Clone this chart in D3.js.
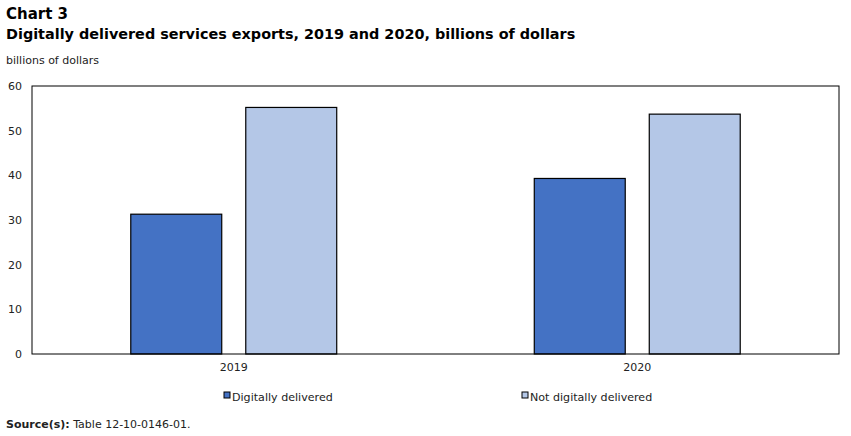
<!DOCTYPE html>
<html><head><meta charset="utf-8">
<script src="https://cdn.jsdelivr.net/npm/d3@7"></script>
<style>body{margin:0;background:#fff;} svg{display:block;}</style>
</head><body>
<svg id="c" width="851" height="436"></svg>
<script>
const years = ["2019", "2020"];
const seriesNames = ["Digitally delivered", "Not digitally delivered"];
const digitallyDelivered = [31.3, 39.3];
const notDigitallyDelivered = [55.2, 53.7];
const yTicks = [0, 10, 20, 30, 40, 50, 60];
const colors = ["#4472C4", "#B4C7E7"];

const svg = d3.select("#c");
const font = "'DejaVu Sans', Verdana, sans-serif";
const L = 32, R = 839, T = 86, B = 354;

svg.append("text").attr("x", 6).attr("y", 19).attr("font-family", font).attr("font-weight", "bold")
  .attr("font-size", 15).attr("fill", "#000").text("Chart 3");
svg.append("text").attr("x", 6).attr("y", 39).attr("font-family", font).attr("font-weight", "bold")
  .attr("font-size", 14.4).attr("fill", "#000").text("Digitally delivered services exports, 2019 and 2020, billions of dollars");
svg.append("text").attr("x", 6).attr("y", 64).attr("font-family", font)
  .attr("font-size", 11).attr("fill", "#222").text("billions of dollars");

const y = d3.scaleLinear().domain([0, 60]).range([B, T]);
const x0 = d3.scaleBand().domain(years).range([L, R]).paddingInner(0).paddingOuter(0);
const x1 = d3.scaleBand().domain(seriesNames).range([0, x0.bandwidth()]).paddingInner(0.209).paddingOuter(0.859);

const data = years.map((yr, i) => ({year: yr, vals: [digitallyDelivered[i], notDigitallyDelivered[i]]}));

const g = svg.append("g");
data.forEach(d => {
  d.vals.forEach((v, j) => {
    g.append("rect")
      .attr("x", x0(d.year) + x1(seriesNames[j]))
      .attr("y", y(v))
      .attr("width", x1.bandwidth())
      .attr("height", y(0) - y(v))
      .attr("fill", colors[j])
      .attr("stroke", "#000").attr("stroke-width", 1.2);
  });
});

svg.append("rect").attr("x", L).attr("y", T).attr("width", R - L).attr("height", B - T)
  .attr("fill", "none").attr("stroke", "#000").attr("stroke-width", 1);

const yAxis = svg.append("g").attr("transform", `translate(${L},0)`)
  .call(d3.axisLeft(y).tickValues(yTicks).tickSize(0).tickPadding(10));
yAxis.select(".domain").remove();
yAxis.selectAll("text").attr("font-family", font).attr("font-size", 11).attr("fill", "#222");

const xAxis = svg.append("g").attr("transform", `translate(0,${B})`)
  .call(d3.axisBottom(x0).tickSize(0).tickPadding(9));
xAxis.select(".domain").remove();
xAxis.selectAll("text").attr("font-family", font).attr("font-size", 11).attr("fill", "#222");

const legX = [224, 522];
seriesNames.forEach((s, j) => {
  svg.append("rect").attr("x", legX[j]).attr("y", 392).attr("width", 6).attr("height", 6)
    .attr("fill", colors[j]).attr("stroke", "#000").attr("stroke-width", 1);
  svg.append("text").attr("x", legX[j] + 8).attr("y", 401).attr("font-family", font)
    .attr("font-size", 11.1).attr("fill", "#222").text(s);
});

const src = svg.append("text").attr("x", 6).attr("y", 428).attr("font-family", font).attr("font-size", 11).attr("fill", "#222");
src.append("tspan").attr("font-weight", "bold").text("Source(s):");
src.append("tspan").text(" Table 12-10-0146-01.");
</script>
</body></html>
